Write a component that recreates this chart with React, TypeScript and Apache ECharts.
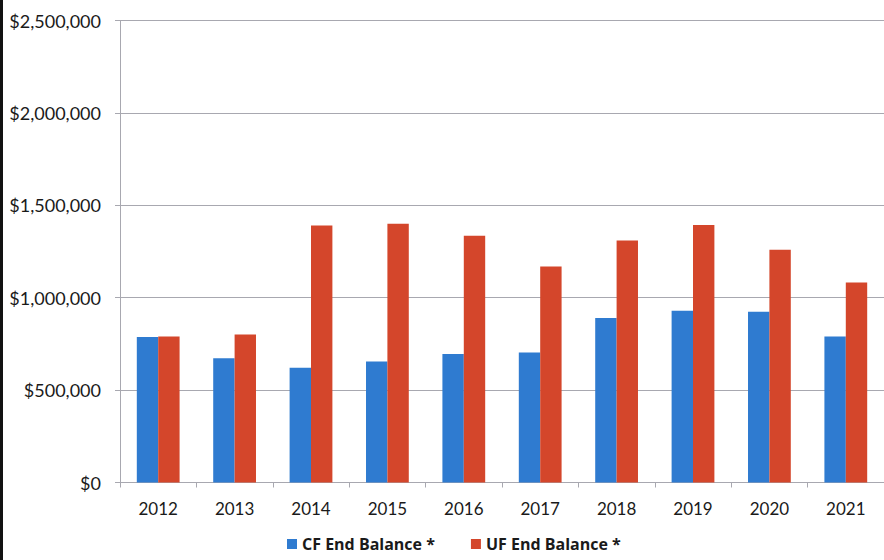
import React, { useEffect, useRef } from "react";
import * as echarts from "echarts";

const years = ["2012", "2013", "2014", "2015", "2016", "2017", "2018", "2019", "2020", "2021"];
const cfEndBalance = [787000, 673000, 621000, 655000, 696000, 703000, 890000, 929000, 924000, 790000];
const ufEndBalance = [790000, 801000, 1391000, 1400000, 1335000, 1169000, 1310000, 1393000, 1259000, 1082000];
const seriesNames = ["CF End Balance *", "UF End Balance *"];

const fontFamily = "Lato, 'Open Sans', sans-serif";

function money(v: number): string {
  return "$" + v.toLocaleString("en-US");
}

export default function App() {
  const ref = useRef<HTMLDivElement>(null);
  useEffect(() => {
    if (!ref.current) return;
    const chart = echarts.init(ref.current, undefined, { renderer: "svg" });
    chart.setOption({
      animation: false,
      backgroundColor: "#ffffff",
      grid: { left: 120, top: 20.5, width: 767, height: 462 },
      legend: {
        data: seriesNames,
        bottom: 3,
        left: 282,
        itemWidth: 10,
        itemHeight: 10,
        itemGap: 36,
        icon: "rect",
        textStyle: { fontFamily: "'Open Sans', sans-serif", fontSize: 16, fontWeight: "bold", color: "#1a1a1a" },
      },
      xAxis: {
        type: "category",
        data: years,
        axisLine: { lineStyle: { color: "#a8a8b0", width: 1 } },
        axisTick: { show: true, length: 5, lineStyle: { color: "#a8a8b0" } },
        axisLabel: { fontFamily, fontSize: 17, color: "#1a1a1a", margin: 17 },
      },
      yAxis: {
        type: "value",
        min: 0,
        max: 2500000,
        interval: 500000,
        axisLine: { show: true, lineStyle: { color: "#a8a8b0", width: 1 } },
        axisTick: { show: true, length: 5, lineStyle: { color: "#a8a8b0" } },
        splitLine: { lineStyle: { color: "#a8a8b0", width: 1 } },
        axisLabel: { fontFamily, fontSize: 18, color: "#1a1a1a", margin: 19, formatter: money },
      },
      series: [
        {
          name: seriesNames[0],
          type: "bar",
          data: cfEndBalance,
          itemStyle: { color: "#2f7bd0" },
          barGap: "0%",
          barCategoryGap: "44%",
        },
        {
          name: seriesNames[1],
          type: "bar",
          data: ufEndBalance,
          itemStyle: { color: "#d4462b" },
          barGap: "0%",
          barCategoryGap: "44%",
        },
      ],
      graphic: [
        { type: "rect", left: 0, top: 0, shape: { width: 3, height: 560 }, style: { fill: "#111" } },
      ],
    });
    return () => chart.dispose();
  }, []);
  return (
    <div
      ref={ref}
      style={{ position: "fixed", left: 0, top: 0, width: 884, height: 560, background: "#fff" }}
    />
  );
}
